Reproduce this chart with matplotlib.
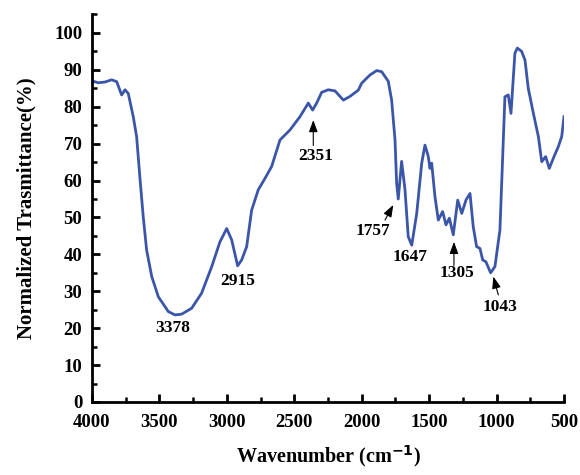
import numpy as np
import matplotlib.pyplot as plt
from matplotlib.ticker import MultipleLocator

plt.rcParams['font.family'] = ['Liberation Serif', 'DejaVu Serif']
plt.rcParams['font.weight'] = 'bold'

# FTIR spectrum (wavenumber, normalized transmittance)
wavenumber = [4000, 3953, 3904, 3854, 3817, 3780, 3755, 3731, 3694, 3669,
              3644, 3620, 3595, 3557, 3508, 3434, 3385, 3335, 3261, 3187,
              3112, 3051, 3001, 2964, 2920, 2890, 2853, 2816, 2767, 2717,
              2668, 2606, 2532, 2458, 2396, 2364, 2334, 2297, 2248, 2198,
              2136, 2087, 2025, 2000, 1939, 1889, 1852, 1803, 1778, 1753,
              1741, 1729, 1704, 1679, 1655, 1629, 1592, 1555, 1531, 1506,
              1494, 1481, 1457, 1432, 1400, 1375, 1350, 1321, 1288, 1258,
              1227, 1197, 1173, 1148, 1123, 1103, 1079, 1044, 1012, 975,
              938, 913, 893, 864, 846, 814, 789, 765, 727, 690,
              665, 636, 609, 574, 542, 517, 500]
transmittance = [87.0, 86.5, 86.7, 87.3, 86.8, 83.2, 84.6, 83.6, 77.3, 71.9,
                 60.5, 50.2, 41.2, 34.0, 28.5, 24.5, 23.6, 23.8, 25.4, 29.5,
                 36.7, 43.4, 47.0, 43.9, 36.9, 38.5, 42.1, 52.0, 57.5, 60.6,
                 63.8, 71.0, 73.7, 77.3, 81.0, 79.1, 81.0, 83.9, 84.6, 84.3,
                 81.8, 82.8, 84.5, 86.4, 88.6, 89.8, 89.5, 86.9, 81.8, 71.0,
                 59.3, 55.0, 65.2, 57.5, 44.8, 42.5, 51.1, 64.7, 69.6, 66.5,
                 63.3, 64.7, 55.7, 49.3, 51.6, 48.0, 49.8, 45.3, 54.7, 51.1,
                 54.7, 56.5, 47.5, 42.1, 41.6, 38.5, 38.0, 35.0, 36.7, 46.6,
                 82.7, 83.2, 78.2, 94.5, 95.9, 95.0, 92.6, 85.0, 78.2, 71.9,
                 65.1, 66.5, 63.3, 66.5, 69.2, 71.9, 77.3]

# peak labels: text, text position, arrow (start, tip) or None
peak_labels = ["3378", "2915", "2351", "1757", "1647", "1305", "1043"]
label_x = [3399, 2917, 2339, 1914, 1642, 1296, 975]
label_y = [20.0, 32.8, 66.7, 46.2, 39.4, 34.9, 25.8]
arrow_from = [None, None, (2359, 69.5), (1827, 49.3), None, (1316, 37.0), (987, 29.0)]
arrow_to = [None, None, (2359, 76.4), (1766, 53.4), None, (1316, 43.4), (1024, 34.0)]


def main():
    fig = plt.figure(figsize=(5.8, 4.75), dpi=100)
    ax = fig.add_axes([0.1586, 0.1537, 0.8138, 0.8158])

    ax.plot(wavenumber, transmittance, color='#3b56a8', lw=2.0)

    for t, x, y, a, b in zip(peak_labels, label_x, label_y, arrow_from, arrow_to):
        ax.text(x, y, t, ha='center', va='center', fontsize=12.5, fontweight='bold')
        if a is not None:
            ax.annotate('', xy=b, xytext=a,
                        arrowprops=dict(arrowstyle='-|>,head_length=0.6,head_width=0.22',
                                        color='black', lw=0.8,
                                        mutation_scale=12, shrinkA=0, shrinkB=0))

    ax.set_xlim(4000, 500)
    ax.set_ylim(0, 105)
    ax.xaxis.set_major_locator(MultipleLocator(500))
    ax.xaxis.set_minor_locator(MultipleLocator(250))
    ax.yaxis.set_major_locator(MultipleLocator(10))
    ax.yaxis.set_minor_locator(MultipleLocator(5))
    ax.set_yticks(np.arange(0, 101, 10))

    for s in ['top', 'right']:
        ax.spines[s].set_visible(False)
    for s in ['left', 'bottom']:
        ax.spines[s].set_linewidth(2.0)
    ax.tick_params(which='major', direction='in', length=6, width=2.0, labelsize=13.5)
    ax.tick_params(axis='x', which='major', pad=9)
    ax.tick_params(axis='y', which='major', pad=7)
    ax.tick_params(which='minor', direction='in', length=3.5, width=1.8)
    for lab in ax.get_xticklabels() + ax.get_yticklabels():
        lab.set_fontweight('bold')

    ax.set_xlabel('Wavenumber (cm$^{\\mathbf{-1}}$)', fontsize=14.5, fontweight='bold', labelpad=8)
    ax.set_ylabel('Normalized Trasmittance(%)', fontsize=15, fontweight='bold', labelpad=13)

    fig.savefig('out.png', dpi=100)


if __name__ == "__main__":
    main()
